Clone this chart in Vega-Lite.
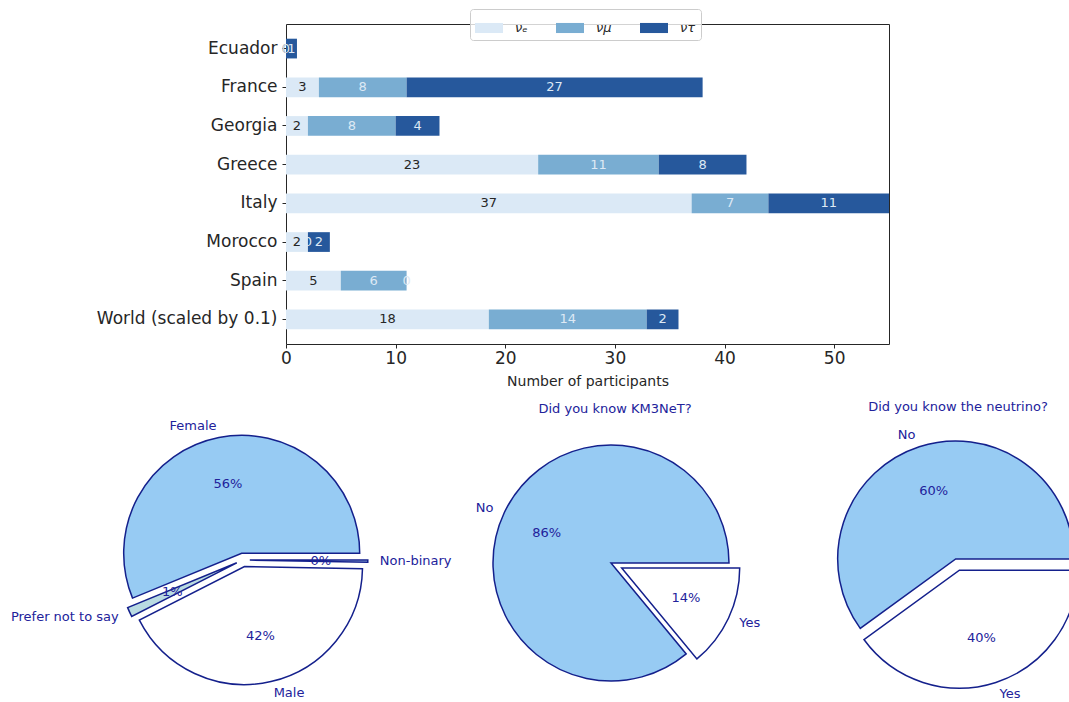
{
  "$schema": "https://vega.github.io/schema/vega-lite/v6.json",
  "padding": {"left": 0, "top": 8, "right": 0, "bottom": 0},
  "background": "white",
  "datasets": {
    "participants": [
      {"country": "Ecuador", "flavor": "nu_e", "k": 1, "n": 0, "lab": "0"},
      {"country": "Ecuador", "flavor": "nu_mu", "k": 2, "n": 0, "lab": "0"},
      {"country": "Ecuador", "flavor": "nu_tau", "k": 3, "n": 1, "lab": "1"},
      {"country": "France", "flavor": "nu_e", "k": 1, "n": 3, "lab": "3"},
      {"country": "France", "flavor": "nu_mu", "k": 2, "n": 8, "lab": "8"},
      {"country": "France", "flavor": "nu_tau", "k": 3, "n": 27, "lab": "27"},
      {"country": "Georgia", "flavor": "nu_e", "k": 1, "n": 2, "lab": "2"},
      {"country": "Georgia", "flavor": "nu_mu", "k": 2, "n": 8, "lab": "8"},
      {"country": "Georgia", "flavor": "nu_tau", "k": 3, "n": 4, "lab": "4"},
      {"country": "Greece", "flavor": "nu_e", "k": 1, "n": 23, "lab": "23"},
      {"country": "Greece", "flavor": "nu_mu", "k": 2, "n": 11, "lab": "11"},
      {"country": "Greece", "flavor": "nu_tau", "k": 3, "n": 8, "lab": "8"},
      {"country": "Italy", "flavor": "nu_e", "k": 1, "n": 37, "lab": "37"},
      {"country": "Italy", "flavor": "nu_mu", "k": 2, "n": 7, "lab": "7"},
      {"country": "Italy", "flavor": "nu_tau", "k": 3, "n": 11, "lab": "11"},
      {"country": "Morocco", "flavor": "nu_e", "k": 1, "n": 2, "lab": "2"},
      {"country": "Morocco", "flavor": "nu_mu", "k": 2, "n": 0, "lab": "0"},
      {"country": "Morocco", "flavor": "nu_tau", "k": 3, "n": 2, "lab": "2"},
      {"country": "Spain", "flavor": "nu_e", "k": 1, "n": 5, "lab": "5"},
      {"country": "Spain", "flavor": "nu_mu", "k": 2, "n": 6, "lab": "6"},
      {"country": "Spain", "flavor": "nu_tau", "k": 3, "n": 0, "lab": "0"},
      {"country": "World (scaled by 0.1)", "flavor": "nu_e", "k": 1, "n": 18.5, "lab": "18"},
      {"country": "World (scaled by 0.1)", "flavor": "nu_mu", "k": 2, "n": 14.4, "lab": "14"},
      {"country": "World (scaled by 0.1)", "flavor": "nu_tau", "k": 3, "n": 2.9, "lab": "2"}
    ],
    "gender": [
      {"answer": "Female", "share": 0.562, "i": 1},
      {"answer": "Prefer not to say", "share": 0.013, "i": 2},
      {"answer": "Male", "share": 0.422, "i": 3},
      {"answer": "Non-binary", "share": 0.003, "i": 4}
    ],
    "km3net": [
      {"answer": "No", "share": 0.86, "i": 1},
      {"answer": "Yes", "share": 0.14, "i": 2}
    ],
    "neutrino": [
      {"answer": "No", "share": 0.6, "i": 1},
      {"answer": "Yes", "share": 0.4, "i": 2}
    ]
  },
  "vconcat": [
    {
      "hconcat": [
        {
          "width": 286,
          "height": 10,
          "data": {"values": []},
          "mark": "point",
          "encoding": {}
        },
        {
          "width": 603,
          "height": 320,
          "data": {"name": "participants"},
          "view": {"stroke": "#262626", "strokeWidth": 1},
          "encoding": {
            "y": {
              "field": "country",
              "type": "nominal",
              "sort": null,
              "title": null,
              "scale": {"paddingInner": 0.49, "paddingOuter": 0.38},
              "axis": {"labelFontSize": 17, "labelColor": "#262626", "tickColor": "#262626", "tickSize": 4, "labelPadding": 5, "labelLimit": 400, "domain": false}
            },
            "order": {"field": "k", "type": "quantitative"}
          },
          "layer": [
            {
              "mark": {"type": "bar"},
              "encoding": {
                "x": {
                  "field": "n",
                  "type": "quantitative",
                  "stack": "zero",
                  "title": "Number of participants",
                  "scale": {"domain": [0, 55], "nice": false},
                  "axis": {
                    "values": [0, 10, 20, 30, 40, 50],
                    "grid": false,
                    "domain": false,
                    "labelFlush": false,
                    "labelFontSize": 17,
                    "labelColor": "#262626",
                    "tickColor": "#262626",
                    "tickSize": 4,
                    "labelPadding": 2,
                    "titleFontSize": 14,
                    "titleFontWeight": "normal",
                    "titleColor": "#262626",
                    "titlePadding": 8
                  }
                },
                "color": {
                  "field": "flavor",
                  "type": "nominal",
                  "scale": {"domain": ["nu_e", "nu_mu", "nu_tau"], "range": ["#dbe9f6", "#79add2", "#26589c"]},
                  "legend": {
                    "title": null,
                    "orient": "none",
                    "direction": "horizontal",
                    "legendX": 470,
                    "legendY": -15,
                    "labelExpr": "datum.label == 'nu_e' ? 'νₑ' : datum.label == 'nu_mu' ? 'νμ' : 'ντ'",
                    "labelFont": "DejaVu Sans",
                    "labelFontSize": 13,
                    "labelFontStyle": "italic",
                    "labelColor": "#262626",
                    "symbolType": "M-1,-0.36H1V0.36H-1Z",
                    "symbolSize": 784,
                    "symbolStrokeWidth": 0,
                    "symbolOpacity": 1,
                    "labelOffset": 12,
                    "columnPadding": 28,
                    "padding": 5,
                    "fillColor": "rgba(255,255,255,0.8)",
                    "strokeColor": "#cccccc",
                    "cornerRadius": 3
                  }
                }
              }
            },
            {
              "mark": {"type": "text", "fontSize": 13, "baseline": "middle", "align": "center"},
              "encoding": {
                "x": {"field": "n", "type": "quantitative", "stack": "zero", "bandPosition": 0.5, "title": "Number of participants"},
                "text": {"field": "lab"},
                "fill": {
                  "field": "flavor",
                  "type": "nominal",
                  "scale": {"domain": ["nu_e", "nu_mu", "nu_tau"], "range": ["#262626", "#dde9f5", "#dde9f5"]},
                  "legend": null
                }
              }
            }
          ]
        }
      ],
      "spacing": 0,
      "bounds": "flush"
    },
    {
      "hconcat": [
        {
          "width": 486,
          "height": 240,
          "data": {"name": "gender"},
          "encoding": {
            "theta": {"field": "share", "type": "quantitative", "stack": true, "scale": {"domain": [0, 1], "range": [1.5708, -4.7124]}},
            "order": {"field": "i", "type": "quantitative"}
          },
          "layer": [
            {
              "mark": {"type": "arc", "outerRadius": 118, "fill": "#97cbf3", "stroke": "#14208c", "strokeWidth": 1.5, "xOffset": -1.3, "yOffset": -6.7},
              "encoding": {"opacity": {"condition": {"test": "datum.answer == 'Female'", "value": 1}, "value": 0}}
            },
            {
              "mark": {"type": "text", "radius": 130, "align": "right", "baseline": "middle", "fontSize": 13, "color": "#22229b", "dx": -1.3, "dy": -6.7},
              "encoding": {"text": {"field": "answer"}, "opacity": {"condition": {"test": "datum.answer == 'Female'", "value": 1}, "value": 0}}
            },
            {
              "mark": {"type": "text", "radius": 71, "align": "center", "baseline": "middle", "fontSize": 13, "color": "#22229b", "dx": -1.3, "dy": -6.7},
              "encoding": {"text": {"field": "share", "format": ".0%"}, "opacity": {"condition": {"test": "datum.answer == 'Female'", "value": 1}, "value": 0}}
            },
            {
              "mark": {"type": "arc", "outerRadius": 118, "fill": "#b9dbe2", "stroke": "#14208c", "strokeWidth": 1.5, "xOffset": -6.2, "yOffset": 2.8},
              "encoding": {"opacity": {"condition": {"test": "datum.answer == 'Prefer not to say'", "value": 1}, "value": 0}}
            },
            {
              "mark": {"type": "text", "radius": 130, "align": "right", "baseline": "middle", "fontSize": 13, "color": "#22229b", "dx": -6.2, "dy": 2.8},
              "encoding": {"text": {"field": "answer"}, "opacity": {"condition": {"test": "datum.answer == 'Prefer not to say'", "value": 1}, "value": 0}}
            },
            {
              "mark": {"type": "text", "radius": 71, "align": "center", "baseline": "middle", "fontSize": 13, "color": "#22229b", "dx": -6.2, "dy": 2.8},
              "encoding": {"text": {"field": "share", "format": ".0%"}, "opacity": {"condition": {"test": "datum.answer == 'Prefer not to say'", "value": 1}, "value": 0}}
            },
            {
              "mark": {"type": "arc", "outerRadius": 118, "fill": "white", "stroke": "#14208c", "strokeWidth": 1.5, "xOffset": 1.5, "yOffset": 6.6},
              "encoding": {"opacity": {"condition": {"test": "datum.answer == 'Male'", "value": 1}, "value": 0}}
            },
            {
              "mark": {"type": "text", "radius": 130, "align": "left", "baseline": "middle", "fontSize": 13, "color": "#22229b", "dx": 1.5, "dy": 6.6},
              "encoding": {"text": {"field": "answer"}, "opacity": {"condition": {"test": "datum.answer == 'Male'", "value": 1}, "value": 0}}
            },
            {
              "mark": {"type": "text", "radius": 71, "align": "center", "baseline": "middle", "fontSize": 13, "color": "#22229b", "dx": 1.5, "dy": 6.6},
              "encoding": {"text": {"field": "share", "format": ".0%"}, "opacity": {"condition": {"test": "datum.answer == 'Male'", "value": 1}, "value": 0}}
            },
            {
              "mark": {"type": "arc", "outerRadius": 118, "fill": "#a9c7e8", "stroke": "#14208c", "strokeWidth": 1.5, "xOffset": 6.8, "yOffset": 0.1},
              "encoding": {"opacity": {"condition": {"test": "datum.answer == 'Non-binary'", "value": 1}, "value": 0}}
            },
            {
              "mark": {"type": "text", "radius": 130, "align": "left", "baseline": "middle", "fontSize": 13, "color": "#22229b", "dx": 6.8, "dy": 0.1},
              "encoding": {"text": {"field": "answer"}, "opacity": {"condition": {"test": "datum.answer == 'Non-binary'", "value": 1}, "value": 0}}
            },
            {
              "mark": {"type": "text", "radius": 71, "align": "center", "baseline": "middle", "fontSize": 13, "color": "#22229b", "dx": 6.8, "dy": 0.1},
              "encoding": {"text": {"field": "share", "format": ".0%"}, "opacity": {"condition": {"test": "datum.answer == 'Non-binary'", "value": 1}, "value": 0}}
            }
          ]
        },
        {
          "hconcat": [
            {
              "width": 236,
              "height": 246,
              "data": {"name": "km3net"},
              "title": {"text": "Did you know KM3NeT?", "fontSize": 13, "fontWeight": "normal", "color": "#22229b", "offset": 24, "dx": 4},
              "encoding": {
                "theta": {"field": "share", "type": "quantitative", "stack": true, "scale": {"domain": [0, 1], "range": [1.5708, -4.7124]}},
                "order": {"field": "i", "type": "quantitative"}
              },
              "layer": [
                {
                  "mark": {"type": "arc", "outerRadius": 118, "fill": "#97cbf3", "stroke": "#14208c", "strokeWidth": 1.5},
                  "encoding": {"opacity": {"condition": {"test": "datum.answer == 'No'", "value": 1}, "value": 0}}
                },
                {
                  "mark": {"type": "text", "radius": 130, "align": "right", "baseline": "middle", "fontSize": 13, "color": "#22229b"},
                  "encoding": {"text": {"field": "answer"}, "opacity": {"condition": {"test": "datum.answer == 'No'", "value": 1}, "value": 0}}
                },
                {
                  "mark": {"type": "text", "radius": 71, "align": "center", "baseline": "middle", "fontSize": 13, "color": "#22229b"},
                  "encoding": {"text": {"field": "share", "format": ".0%"}, "opacity": {"condition": {"test": "datum.answer == 'No'", "value": 1}, "value": 0}}
                },
                {
                  "mark": {"type": "arc", "outerRadius": 118, "fill": "white", "stroke": "#14208c", "strokeWidth": 1.5, "xOffset": 10.7, "yOffset": 5},
                  "encoding": {"opacity": {"condition": {"test": "datum.answer == 'Yes'", "value": 1}, "value": 0}}
                },
                {
                  "mark": {"type": "text", "radius": 130, "align": "left", "baseline": "middle", "fontSize": 13, "color": "#22229b", "dx": 10.7, "dy": 5},
                  "encoding": {"text": {"field": "answer"}, "opacity": {"condition": {"test": "datum.answer == 'Yes'", "value": 1}, "value": 0}}
                },
                {
                  "mark": {"type": "text", "radius": 71, "align": "center", "baseline": "middle", "fontSize": 13, "color": "#22229b", "dx": 10.7, "dy": 5},
                  "encoding": {"text": {"field": "share", "format": ".0%"}, "opacity": {"condition": {"test": "datum.answer == 'Yes'", "value": 1}, "value": 0}}
                }
              ]
            },
            {
              "width": 236,
              "height": 256,
              "data": {"name": "neutrino"},
              "title": {"text": "Did you know the neutrino?", "fontSize": 13, "fontWeight": "normal", "color": "#22229b", "offset": 15, "dx": 7},
              "encoding": {
                "theta": {"field": "share", "type": "quantitative", "stack": true, "scale": {"domain": [0, 1], "range": [1.5708, -4.7124]}},
                "order": {"field": "i", "type": "quantitative"}
              },
              "layer": [
                {
                  "mark": {"type": "arc", "outerRadius": 118, "fill": "#97cbf3", "stroke": "#14208c", "strokeWidth": 1.5, "xOffset": 4.7, "yOffset": -9, "clip": true},
                  "encoding": {"opacity": {"condition": {"test": "datum.answer == 'No'", "value": 1}, "value": 0}}
                },
                {
                  "mark": {"type": "text", "radius": 130, "align": "right", "baseline": "middle", "fontSize": 13, "color": "#22229b", "dx": 4.7, "dy": -9},
                  "encoding": {"text": {"field": "answer"}, "opacity": {"condition": {"test": "datum.answer == 'No'", "value": 1}, "value": 0}}
                },
                {
                  "mark": {"type": "text", "radius": 71, "align": "center", "baseline": "middle", "fontSize": 13, "color": "#22229b", "dx": 4.7, "dy": -9},
                  "encoding": {"text": {"field": "share", "format": ".0%"}, "opacity": {"condition": {"test": "datum.answer == 'No'", "value": 1}, "value": 0}}
                },
                {
                  "mark": {"type": "arc", "outerRadius": 118, "fill": "white", "stroke": "#14208c", "strokeWidth": 1.5, "xOffset": 8.4, "yOffset": 2.2, "clip": true},
                  "encoding": {"opacity": {"condition": {"test": "datum.answer == 'Yes'", "value": 1}, "value": 0}}
                },
                {
                  "mark": {"type": "text", "radius": 130, "align": "left", "baseline": "middle", "fontSize": 13, "color": "#22229b", "dx": 8.4, "dy": 2.2},
                  "encoding": {"text": {"field": "answer"}, "opacity": {"condition": {"test": "datum.answer == 'Yes'", "value": 1}, "value": 0}}
                },
                {
                  "mark": {"type": "text", "radius": 71, "align": "center", "baseline": "middle", "fontSize": 13, "color": "#22229b", "dx": 8.4, "dy": 2.2},
                  "encoding": {"text": {"field": "share", "format": ".0%"}, "opacity": {"condition": {"test": "datum.answer == 'Yes'", "value": 1}, "value": 0}}
                }
              ]
            }
          ],
          "spacing": 104,
          "bounds": "flush"
        }
      ],
      "spacing": 7,
      "bounds": "flush"
    }
  ],
  "spacing": 12,
  "config": {
    "font": "DejaVu Sans",
    "view": {"stroke": null}
  }
}
